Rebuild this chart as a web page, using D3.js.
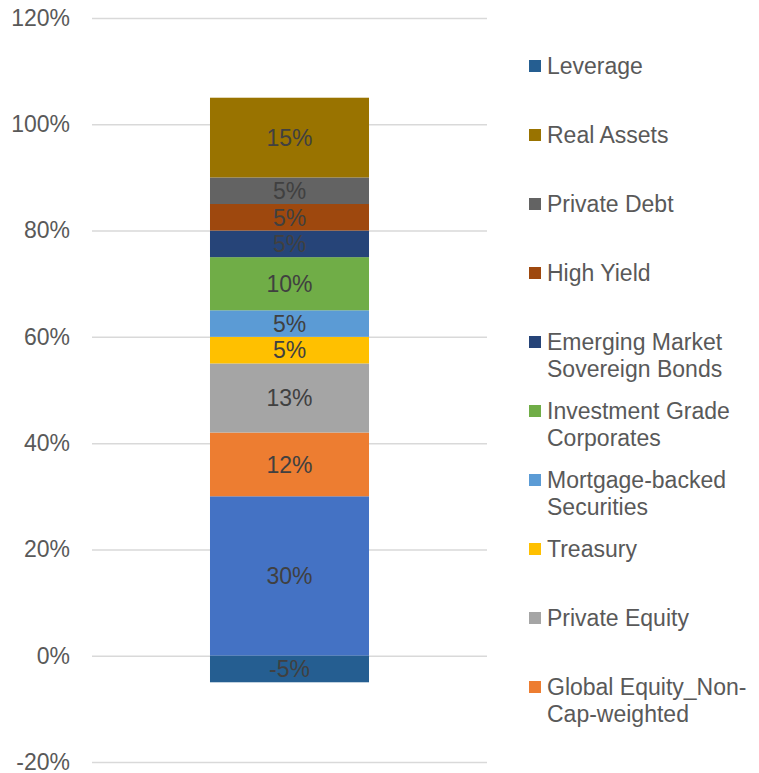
<!DOCTYPE html>
<html lang="en">
<head>
    <meta charset="UTF-8">
    <title>Asset Allocation</title>
    <style>
        body { margin: 0; background: #fff; }
        text { font-family: "Liberation Sans", Arial, sans-serif; }
    </style>
</head>
<body>
<script src="https://d3js.org/d3.v7.min.js"></script>
<script>
    // series from the bottom of the stack up
    var assetNames = ["Global Equity_Cap-weighted", "Global Equity_Non-Cap-weighted", "Private Equity",
        "Treasury", "Mortgage-backed Securities", "Investment Grade Corporates",
        "Emerging Market Sovereign Bonds", "High Yield", "Private Debt", "Real Assets", "Leverage"];
    var weights = [30, 12, 13, 5, 5, 10, 5, 5, 5, 15, -5];
    var colors = ["#4472c4", "#ed7d31", "#a5a5a5", "#ffc000", "#5b9bd5", "#70ad47",
        "#264478", "#9e480e", "#636363", "#997300", "#255e91"];
    var yTicks = [-20, 0, 20, 40, 60, 80, 100, 120];

    var width = 759,
        height = 773;

    var svg = d3.select("body")
        .append("svg")
        .attr("width", width)
        .attr("height", height);

    // one row table for d3.stack
    var row = {};
    assetNames.forEach(function (n, i) { row[n] = weights[i]; });

    var stack = d3.stack()
        .keys(assetNames)
        .offset(d3.stackOffsetDiverging);
    var series = stack([row]);

    var x = d3.scaleBand()
        .domain(["Portfolio"])
        .range([92, 487])
        .paddingInner(0)
        .paddingOuter(0.742);

    var y = d3.scaleLinear()
        .domain([-20, 120])
        .range([762, 18]);

    var color = d3.scaleOrdinal()
        .domain(assetNames)
        .range(colors);

    // gridlines + tick labels
    var yAxis = d3.axisLeft(y)
        .tickValues(yTicks)
        .tickSize(-(487 - 92))
        .tickPadding(22)
        .tickFormat(function (d) { return d + "%"; });

    var gy = svg.append("g")
        .attr("transform", "translate(92,0)")
        .call(yAxis);
    gy.select(".domain").remove();
    gy.selectAll(".tick line")
        .attr("stroke", "#d9d9d9")
        .attr("stroke-width", 1.5);
    gy.selectAll(".tick text")
        .attr("fill", "#595959")
        .style("font-size", "23px")
        .style("font-family", "'Liberation Sans', Arial, sans-serif");

    // bar segments
    var seg = svg.append("g")
        .selectAll("g")
        .data(series)
        .enter()
        .append("g");

    seg.append("rect")
        .attr("x", x("Portfolio"))
        .attr("width", x.bandwidth())
        .attr("y", function (d) { return y(d[0][1]); })
        .attr("height", function (d) { return y(d[0][0]) - y(d[0][1]); })
        .attr("fill", function (d) { return color(d.key); });

    seg.append("text")
        .attr("x", x("Portfolio") + x.bandwidth() / 2)
        .attr("y", function (d) { return (y(d[0][0]) + y(d[0][1])) / 2; })
        .attr("text-anchor", "middle")
        .attr("dy", "0.36em")
        .attr("fill", "#404040")
        .style("font-size", "23px")
        .text(function (d) { return weights[assetNames.indexOf(d.key)] + "%"; });

    // legend, reversed like the spreadsheet one, clipped at the bottom
    var legendNames = assetNames.slice().reverse();
    var legend = svg.append("g");
    var maxW = 212, lineH = 27;

    function splitTokens(s) {
        // break after spaces and hyphens
        return s.match(/[^ \-]+-|[^ \-]+ ?|-/g).map(function (t) { return t; });
    }

    legendNames.forEach(function (name, i) {
        var cy = 66 + 69 * i;
        var g = legend.append("g");
        var t = g.append("text")
            .attr("x", 547)
            .attr("y", cy)
            .attr("dy", "0.36em")
            .attr("fill", "#595959")
            .style("font-size", "23px");

        var tokens = splitTokens(name);
        var lines = [], cur = "";
        var probe = t.append("tspan");
        tokens.forEach(function (tok) {
            var test = cur + tok;
            probe.text(test.trim());
            if (cur !== "" && probe.node().getComputedTextLength() > maxW) {
                lines.push(cur.trim());
                cur = tok;
            } else {
                cur = test;
            }
        });
        lines.push(cur.trim());
        probe.remove();

        if (cy + (lines.length - 1) * lineH + 12 > height) {
            g.remove();
            return;
        }

        lines.forEach(function (l, k) {
            t.append("tspan")
                .attr("x", 547)
                .attr("y", cy + k * lineH)
                .attr("dy", "0.36em")
                .text(l);
        });

        g.append("rect")
            .attr("x", 529)
            .attr("y", cy - 6)
            .attr("width", 12)
            .attr("height", 12)
            .attr("fill", color(name));
    });
</script>
</body>
</html>
